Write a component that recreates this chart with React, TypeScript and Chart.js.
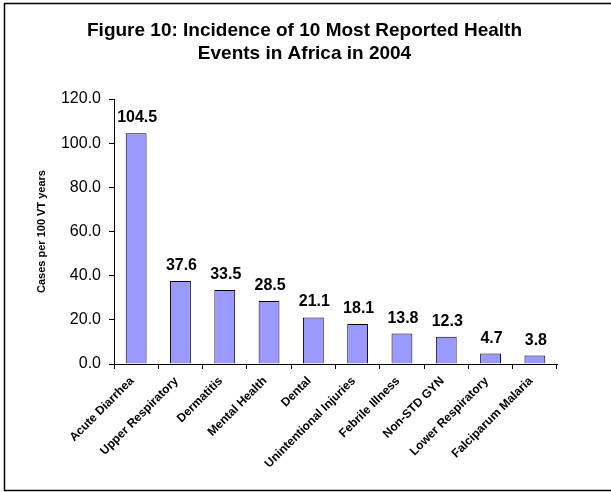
import React, { useEffect, useRef } from "react";
import { Chart, registerables } from "chart.js";

Chart.register(...registerables);

const categories = [
  "Acute Diarrhea",
  "Upper Respiratory",
  "Dermatitis",
  "Mental Health",
  "Dental",
  "Unintentional Injuries",
  "Febrile Illness",
  "Non-STD GYN",
  "Lower Respiratory",
  "Falciparum Malaria",
];
const values = [104.5, 37.6, 33.5, 28.5, 21.1, 18.1, 13.8, 12.3, 4.7, 3.8];
const yMin = 0;
const yMax = 120;
const yStep = 20;
const titleLines = [
  "Figure 10: Incidence of 10 Most Reported Health",
  "Events in Africa in 2004",
];
const yAxisTitle = "Cases per 100 VT years";

const FONT = "'Liberation Sans', Arial, sans-serif";

const decorPlugin = {
  id: "decor",
  beforeDraw(chart: any) {
    const ctx = chart.ctx;
    ctx.save();
    ctx.fillStyle = "#ffffff";
    ctx.fillRect(0, 0, chart.width, chart.height);
    ctx.restore();
  },
  afterDraw(chart: any) {
    const ctx = chart.ctx;
    ctx.save();
    // outer border
    ctx.strokeStyle = "#000000";
    ctx.lineWidth = 1.5;
    ctx.strokeRect(4.5, 3.5, chart.width + 10, 487);
    // title
    ctx.fillStyle = "#000000";
    ctx.font = `bold 19px ${FONT}`;
    ctx.textAlign = "center";
    ctx.textBaseline = "middle";
    const cx = chart.width / 2 - 1;
    titleLines.forEach((line, i) => {
      ctx.fillText(line, cx, 31 + i * 23);
    });
    // data labels
    const meta = chart.getDatasetMeta(0);
    ctx.font = `bold 16px ${FONT}`;
    ctx.textBaseline = "alphabetic";
    meta.data.forEach((bar: any, i: number) => {
      ctx.fillText(values[i].toFixed(1), bar.x + 1, bar.y - 11);
    });
    ctx.restore();
  },
};

export default function App() {
  const ref = useRef<HTMLCanvasElement | null>(null);
  useEffect(() => {
    if (!ref.current) return;
    const chart = new Chart(ref.current, {
      type: "bar",
      data: {
        labels: categories,
        datasets: [
          {
            data: values,
            backgroundColor: "#9999FF",
            borderColor: "#000000",
            borderWidth: 1,
            barPercentage: 0.47,
            categoryPercentage: 1,
          },
        ],
      },
      options: {
        responsive: false,
        animation: false,
        layout: { padding: { top: 99, left: 30, right: 54, bottom: 8 } },
        plugins: {
          legend: { display: false },
          title: { display: false },
          tooltip: { enabled: false },
        },
        scales: {
          x: {
            grid: {
              drawOnChartArea: false,
              drawTicks: true,
              tickLength: 5,
              color: "#000000",
              offset: true,
            },
            border: { color: "#000000", width: 1 },
            ticks: {
              maxRotation: 45,
              minRotation: 45,
              autoSkip: false,
              color: "#000000",
              padding: 5,
              labelOffset: -4,
              font: { family: FONT, size: 12, weight: "bold" },
            },
            afterFit: (s: any) => {
              s.height = 120;
            },
          },
          y: {
            min: yMin,
            max: yMax,
            ticks: {
              stepSize: yStep,
              color: "#000000",
              padding: 8,
              font: { family: FONT, size: 16 },
              callback: (v: any) => Number(v).toFixed(1),
            },
            grid: {
              drawOnChartArea: false,
              drawTicks: true,
              tickLength: 5,
              color: "#000000",
            },
            border: { color: "#000000", width: 1 },
            title: {
              display: true,
              text: yAxisTitle,
              color: "#000000",
              font: { family: FONT, size: 11, weight: "bold" },
              padding: { top: 5, bottom: 0 },
            },
            afterFit: (s: any) => {
              s.width = 84;
            },
          },
        },
      } as any,
      plugins: [decorPlugin],
    });
    return () => chart.destroy();
  }, []);
  return (
    <div style={{ position: "absolute", left: 0, top: 0, width: 611, height: 492 }}>
      <canvas ref={ref} width={611} height={492} style={{ display: "block" }} />
    </div>
  );
}
